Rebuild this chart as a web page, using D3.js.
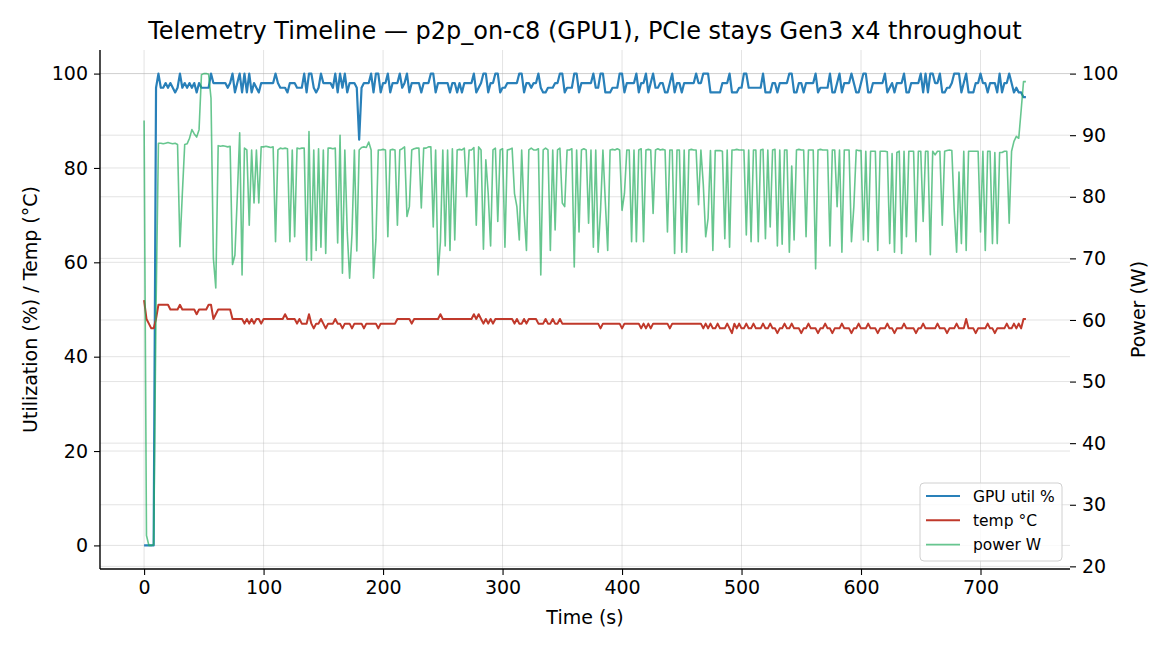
<!DOCTYPE html>
<html>
<head>
<meta charset="utf-8">
<script src="https://cdn.jsdelivr.net/npm/d3@7"></script>
<style>
  body { margin: 0; background: #fff; }
  svg { font-family: "DejaVu Sans", sans-serif; }
</style>
</head>
<body>
<div id="chart"></div>
<script>
// telemetry samples, one every 2 s from t=0 to t=738
const sampleStep = 2;

const gpuUtil = [
  0, 0, 0, 0, 0, 97, 100, 97, 97, 98,
  97, 98, 97, 96, 97, 100, 97, 98, 97, 98,
  97, 98, 96, 98, 97, 97, 97, 97, 100, 98,
  98, 98, 98, 98, 98, 97, 98, 100, 96, 98,
  100, 96, 100, 96, 100, 96, 98, 97, 96, 98,
  98, 98, 98, 98, 98, 100, 98, 97, 97, 97,
  96, 98, 98, 98, 97, 97, 97, 100, 96, 100,
  100, 97, 96, 97, 100, 98, 98, 98, 98, 97,
  100, 96, 100, 97, 100, 96, 98, 98, 98, 97,
  86, 97, 98, 98, 98, 100, 96, 100, 100, 96,
  98, 98, 100, 96, 98, 98, 98, 100, 97, 98,
  100, 96, 98, 98, 98, 98, 96, 98, 98, 98,
  100, 100, 96, 98, 98, 98, 98, 98, 96, 98,
  98, 96, 98, 96, 98, 98, 98, 98, 100, 96,
  97, 98, 100, 100, 96, 98, 98, 100, 100, 96,
  97, 97, 98, 98, 98, 98, 98, 100, 100, 96,
  98, 98, 97, 98, 98, 100, 97, 96, 96, 97,
  97, 97, 98, 98, 100, 100, 96, 97, 97, 97,
  100, 100, 96, 98, 98, 98, 98, 98, 100, 97,
  97, 100, 100, 96, 96, 96, 97, 97, 97, 100,
  100, 96, 98, 98, 98, 98, 100, 96, 98, 98,
  100, 96, 98, 100, 97, 97, 98, 98, 96, 96,
  98, 100, 96, 98, 98, 96, 98, 98, 98, 98,
  98, 100, 98, 98, 100, 100, 100, 96, 96, 96,
  96, 96, 98, 98, 98, 100, 96, 96, 96, 97,
  97, 100, 100, 97, 97, 97, 97, 97, 97, 100,
  96, 96, 96, 98, 98, 96, 98, 98, 98, 98,
  100, 100, 96, 96, 98, 98, 96, 98, 98, 98,
  98, 100, 96, 97, 97, 97, 97, 100, 96, 96,
  98, 100, 96, 98, 98, 98, 100, 98, 96, 96,
  98, 100, 100, 96, 96, 98, 98, 98, 98, 98,
  100, 96, 97, 98, 96, 98, 98, 98, 100, 96,
  96, 98, 98, 98, 98, 100, 96, 100, 96, 100,
  100, 98, 98, 100, 96, 96, 97, 97, 98, 100,
  100, 100, 96, 98, 100, 96, 96, 96, 98, 98,
  100, 98, 98, 96, 98, 98, 98, 96, 100, 96,
  98, 98, 100, 98, 96, 97, 96, 96, 95, 95
];

const tempC = [
  52, 48, 47, 46, 46, 48, 51, 51, 51, 51,
  51, 50, 50, 50, 50, 51, 50, 50, 50, 50,
  50, 50, 49, 50, 50, 50, 50, 51, 51, 48,
  49, 50, 50, 50, 50, 50, 50, 48, 48, 48,
  48, 48, 47, 48, 47, 48, 47, 48, 48, 47,
  48, 48, 48, 48, 48, 48, 48, 48, 48, 49,
  48, 48, 48, 48, 47, 48, 47, 47, 47, 49,
  47, 46, 47, 47, 48, 47, 46, 47, 47, 47,
  48, 47, 47, 46, 47, 47, 47, 46, 47, 47,
  47, 47, 46, 47, 47, 47, 47, 47, 46, 47,
  47, 47, 47, 47, 47, 47, 48, 48, 48, 48,
  48, 48, 47, 48, 48, 48, 48, 48, 48, 48,
  48, 48, 48, 48, 49, 48, 48, 48, 48, 48,
  48, 48, 48, 48, 48, 48, 48, 48, 49, 48,
  49, 48, 47, 48, 47, 48, 47, 48, 48, 48,
  48, 48, 48, 48, 48, 47, 48, 47, 47, 48,
  47, 48, 48, 48, 48, 47, 47, 47, 48, 47,
  47, 48, 47, 47, 48, 47, 47, 47, 47, 47,
  47, 47, 47, 47, 47, 47, 47, 47, 47, 47,
  47, 46, 47, 47, 47, 47, 47, 47, 47, 47,
  46, 47, 47, 47, 47, 47, 47, 47, 46, 47,
  46, 47, 46, 47, 47, 47, 47, 47, 47, 47,
  46, 47, 47, 47, 47, 47, 47, 47, 47, 47,
  47, 47, 47, 47, 46, 47, 46, 47, 46, 46,
  47, 46, 46, 46, 47, 46, 45, 47, 46, 47,
  46, 46, 47, 46, 46, 47, 46, 46, 46, 47,
  46, 46, 47, 46, 46, 45, 46, 46, 47, 46,
  46, 47, 46, 46, 46, 45, 46, 46, 47, 46,
  46, 46, 45, 46, 46, 47, 46, 46, 45, 46,
  46, 46, 47, 46, 46, 46, 45, 46, 46, 47,
  46, 46, 46, 47, 46, 46, 46, 45, 46, 46,
  46, 47, 46, 46, 45, 46, 46, 46, 47, 46,
  46, 46, 46, 45, 46, 46, 47, 46, 46, 46,
  46, 46, 47, 46, 46, 46, 45, 46, 46, 46,
  47, 46, 46, 46, 48, 46, 46, 46, 45, 46,
  46, 46, 46, 47, 46, 46, 45, 46, 46, 46,
  46, 47, 46, 46, 47, 46, 47, 46, 48, 48
];

const powerW = [
  92.4, 25.0, 23.4, 23.4, 23.5, 62.0, 88.7, 88.7, 88.6, 88.7,
  88.8, 88.7, 88.6, 88.7, 88.5, 71.9, 80.5, 88.5, 88.6, 89.5,
  90.9, 90.2, 89.7, 90.9, 99.8, 100.0, 100.0, 99.9, 96.0, 70.0,
  65.2, 88.3, 88.2, 88.3, 88.2, 88.1, 88.2, 69.0, 70.5, 80.0,
  90.4, 67.3, 87.9, 87.6, 75.4, 87.6, 79.0, 87.6, 79.0, 88.1,
  88.1, 88.2, 88.1, 88.0, 88.1, 72.7, 87.6, 87.9, 87.8, 87.9,
  87.8, 72.7, 87.6, 73.5, 87.9, 87.8, 87.9, 87.9, 69.7, 90.6,
  69.7, 87.6, 71.3, 87.8, 71.8, 87.6, 70.8, 87.9, 87.9, 87.8,
  87.9, 72.5, 90.0, 67.6, 87.6, 74.3, 66.8, 74.0, 87.6, 71.2,
  87.6, 88.0, 88.1, 88.0, 88.9, 87.6, 66.8, 73.0, 87.6, 87.6,
  87.7, 87.6, 73.5, 87.6, 87.7, 87.6, 75.4, 87.6, 87.8, 88.1,
  76.8, 78.4, 87.6, 87.8, 87.9, 87.9, 78.2, 87.9, 87.9, 88.1,
  88.1, 75.1, 87.6, 67.3, 72.7, 87.6, 72.0, 87.6, 71.3, 87.8,
  73.0, 87.6, 87.7, 87.6, 87.9, 80.0, 87.6, 87.6, 88.0, 75.4,
  88.1, 87.6, 71.5, 86.0, 80.5, 72.0, 87.6, 87.9, 76.0, 87.6,
  87.8, 71.8, 87.6, 87.7, 87.9, 80.5, 78.4, 73.0, 87.6, 77.6,
  71.3, 87.6, 87.9, 87.6, 87.6, 87.8, 67.3, 87.6, 87.9, 87.6,
  71.3, 87.6, 74.6, 87.6, 87.9, 79.0, 78.4, 87.6, 87.6, 87.8,
  68.6, 87.6, 74.3, 87.6, 87.8, 87.6, 75.7, 87.6, 71.8, 87.6,
  71.0, 77.8, 87.6, 79.2, 71.3, 87.6, 87.7, 87.6, 87.8, 87.6,
  77.8, 80.5, 87.6, 87.6, 72.7, 87.6, 72.7, 87.6, 87.8, 72.7,
  87.6, 87.7, 87.6, 77.3, 87.6, 87.8, 87.6, 87.7, 87.6, 74.3,
  87.6, 87.6, 70.8, 87.6, 87.6, 71.0, 87.6, 71.0, 87.6, 87.7,
  87.6, 87.6, 78.7, 87.6, 82.0, 73.5, 76.5, 87.5, 71.3, 87.5,
  87.5, 87.5, 87.4, 73.2, 87.6, 71.8, 87.6, 87.6, 87.7, 87.6,
  87.6, 87.6, 73.8, 87.6, 72.7, 87.6, 87.6, 72.7, 87.6, 87.7,
  73.2, 87.6, 75.1, 87.6, 87.7, 72.0, 87.6, 72.3, 87.6, 87.6,
  71.0, 85.0, 73.0, 87.6, 87.7, 87.6, 87.6, 73.5, 87.6, 87.6,
  87.6, 68.3, 87.6, 87.7, 87.6, 87.6, 87.6, 72.0, 87.6, 87.6,
  78.4, 87.6, 71.0, 87.6, 87.6, 87.6, 72.7, 78.4, 87.6, 87.5,
  87.5, 73.0, 87.4, 72.7, 87.4, 87.4, 87.4, 71.3, 87.4, 87.4,
  87.4, 87.3, 72.4, 87.0, 71.0, 87.2, 87.4, 70.8, 87.4, 73.5,
  87.4, 87.4, 87.4, 72.7, 87.4, 87.4, 76.0, 87.4, 87.4, 70.6,
  87.4, 86.8, 87.4, 87.4, 75.4, 87.4, 87.5, 87.6, 87.5, 77.8,
  71.0, 84.0, 72.4, 87.4, 71.3, 87.4, 87.4, 87.4, 87.4, 87.4,
  74.3, 87.4, 71.3, 87.4, 87.4, 72.4, 87.2, 72.4, 87.2, 87.2,
  87.4, 87.4, 75.7, 87.4, 89.0, 89.8, 89.5, 94.0, 98.7, 98.7
];

const xTicks = [0, 100, 200, 300, 400, 500, 600, 700];
const leftTicks = [0, 20, 40, 60, 80, 100];
const rightTicks = [20, 30, 40, 50, 60, 70, 80, 90, 100];

const seriesNames = ["GPU util %", "temp °C", "power W"];
const seriesColors = ["#2980b9", "#c0392b", "#27ae60"];

const titleText = "Telemetry Timeline — p2p_on-c8 (GPU1), PCIe stays Gen3 x4 throughout";

// ---- layout
const width = 1170, height = 650;
const margin = { top: 50, right: 100, bottom: 81, left: 100 };
const innerW = width - margin.left - margin.right;
const innerH = height - margin.top - margin.bottom;

const times = gpuUtil.map((_, i) => i * sampleStep);

// matplotlib style 5% padding around the data range
function padded(ext) {
  const span = ext[1] - ext[0];
  return [ext[0] - span * 0.05, ext[1] + span * 0.05];
}

const x = d3.scaleLinear()
  .domain(padded(d3.extent(times)))
  .range([0, innerW]);

const yLeft = d3.scaleLinear()
  .domain(padded(d3.extent(gpuUtil.concat(tempC))))
  .range([innerH, 0]);

const yRight = d3.scaleLinear()
  .domain(padded(d3.extent(powerW)))
  .range([innerH, 0]);

const svg = d3.select("#chart").append("svg")
  .attr("width", width)
  .attr("height", height);

svg.append("text")
  .attr("x", margin.left + innerW / 2)
  .attr("y", 39)
  .attr("text-anchor", "middle")
  .style("font-size", "24px")
  .text(titleText);

const g = svg.append("g")
  .attr("transform", `translate(${margin.left},${margin.top})`);

// grid lines (both y axes + x)
const grid = g.append("g").attr("stroke", "#b0b0b0").attr("stroke-opacity", 0.35).attr("stroke-width", 1);
grid.selectAll(".gx").data(xTicks).join("line")
  .attr("x1", d => x(d)).attr("x2", d => x(d))
  .attr("y1", 0).attr("y2", innerH);
grid.selectAll(".gl").data(leftTicks).join("line")
  .attr("x1", 0).attr("x2", innerW)
  .attr("y1", d => yLeft(d)).attr("y2", d => yLeft(d));
grid.selectAll(".gr").data(rightTicks).join("line")
  .attr("x1", 0).attr("x2", innerW)
  .attr("y1", d => yRight(d)).attr("y2", d => yRight(d));

// lines
const lineLeft = (vals) => d3.line()
  .x((d, i) => x(times[i]))
  .y(d => yLeft(d))(vals);

g.append("path")
  .attr("d", lineLeft(gpuUtil))
  .attr("fill", "none")
  .attr("stroke", seriesColors[0])
  .attr("stroke-width", 2.2)
  .attr("stroke-linejoin", "round");

g.append("path")
  .attr("d", lineLeft(tempC))
  .attr("fill", "none")
  .attr("stroke", seriesColors[1])
  .attr("stroke-width", 2)
  .attr("stroke-linejoin", "round");

g.append("path")
  .attr("d", d3.line().x((d, i) => x(times[i])).y(d => yRight(d))(powerW))
  .attr("fill", "none")
  .attr("stroke", seriesColors[2])
  .attr("stroke-opacity", 0.7)
  .attr("stroke-width", 1.6)
  .attr("stroke-linejoin", "round");

// axes
const fontPx = "19px";

const xAxis = g.append("g")
  .attr("transform", `translate(0,${innerH})`)
  .call(d3.axisBottom(x).tickValues(xTicks).tickSize(6).tickPadding(6));

const leftAxis = g.append("g")
  .call(d3.axisLeft(yLeft).tickValues(leftTicks).tickSize(6).tickPadding(6));

const rightAxis = g.append("g")
  .attr("transform", `translate(${innerW},0)`)
  .call(d3.axisRight(yRight).tickValues(rightTicks).tickSize(6).tickPadding(6));

[xAxis, leftAxis, rightAxis].forEach(a => {
  a.selectAll("text").style("font-size", fontPx).attr("fill", "#000");
  a.selectAll(".tick line").attr("stroke", "#000").attr("stroke-width", 1.1);
  a.attr("font-family", null);
});
rightAxis.select(".domain").remove();
xAxis.select(".domain").attr("stroke-width", 1.4).attr("d", `M0,0H${innerW}`);
leftAxis.select(".domain").attr("stroke-width", 1.4).attr("d", `M0,0V${innerH}`);

// axis labels
g.append("text")
  .attr("x", innerW / 2)
  .attr("y", innerH + 55)
  .attr("text-anchor", "middle")
  .style("font-size", fontPx)
  .text("Time (s)");

g.append("text")
  .attr("transform", `translate(${-63},${innerH / 2}) rotate(-90)`)
  .attr("text-anchor", "middle")
  .style("font-size", fontPx)
  .text("Utilization (%) / Temp (°C)");

g.append("text")
  .attr("transform", `translate(${innerW + 75},${innerH / 2}) rotate(-90)`)
  .attr("text-anchor", "middle")
  .style("font-size", fontPx)
  .text("Power (W)");

// legend, lower right
const legW = 142, legH = 78;
const legend = g.append("g")
  .attr("transform", `translate(${innerW - legW - 8},${innerH - legH - 8})`);

legend.append("rect")
  .attr("width", legW).attr("height", legH)
  .attr("rx", 4)
  .attr("fill", "#fff").attr("fill-opacity", 0.8)
  .attr("stroke", "#d0d0d0");

seriesNames.forEach((name, i) => {
  const yy = 13 + i * 24.3;
  legend.append("line")
    .attr("x1", 6).attr("x2", 40)
    .attr("y1", yy).attr("y2", yy)
    .attr("stroke", seriesColors[i])
    .attr("stroke-opacity", i === 2 ? 0.7 : 1)
    .attr("stroke-width", i === 2 ? 1.6 : 2);
  legend.append("text")
    .attr("x", 53)
    .attr("y", yy + 5.5)
    .style("font-size", "15.5px")
    .text(name);
});
</script>
</body>
</html>
